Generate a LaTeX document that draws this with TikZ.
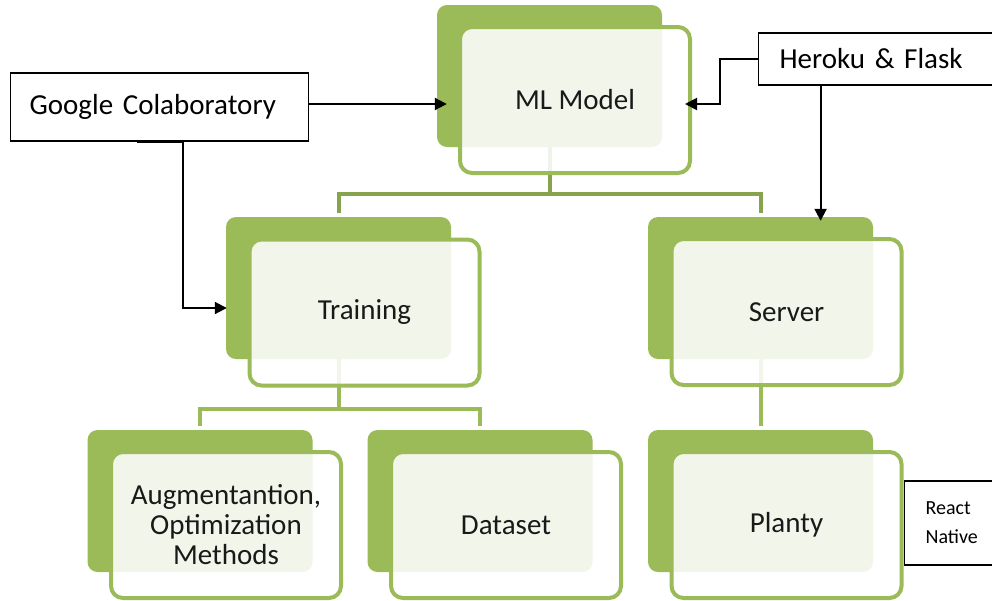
\documentclass[tikz,border=0pt]{standalone}
\usepackage{fontspec}
\setmainfont{Carlito}
\usetikzlibrary{arrows.meta,calc}
\definecolor{grn}{HTML}{9BBB59}
\definecolor{grnd}{HTML}{86A34E}
\newcommand\bigtxt{\fontsize{29}{30}\selectfont}
\newcommand\smalltxt{\fontsize{20}{29}\selectfont}
\begin{document}
\begin{tikzpicture}[x=1pt,y=-1pt,
  back/.style={fill=grn, rounded corners=10pt, minimum width=225pt, minimum height=142pt, inner sep=0pt},
  front/.style={draw=grn, line width=4pt, fill=white, fill opacity=0.88, text opacity=1, rounded corners=12pt, minimum width=230pt, minimum height=146pt, inner sep=0pt, font=\bigtxt, align=center, text=black!90},
  conn/.style={draw=grn, line width=4pt},
  connd/.style={draw=grnd, line width=4pt},
  lbl/.style={draw=black, line width=1.2pt, fill=white, inner sep=0pt, text=black},
  arr/.style={draw=black, line width=2pt, -{Triangle[length=12pt,width=12pt]}}]
\useasboundingbox (0,0) rectangle (992,600);
% back rectangles
\node[back] (mlB) at (549.5,76) {};
\node[back] (trB) at (338.5,288) {};
\node[back] (srvB) at (760.5,288) {};
\node[back] (augB) at (200,501) {};
\node[back] (dsB) at (480,501) {};
\node[back] (plB) at (760.5,501) {};
% tree connectors
\draw[connd] (mlB.south) -- ($(mlB.south)+(0,47)$);
\draw[connd] ([yshift=4pt]trB.north) |- ($(mlB.south)+(0,47)$) -| ([yshift=4pt]srvB.north);
\draw[conn] (trB.south) -- ($(trB.south)+(0,50)$);
\draw[conn] ([yshift=4pt]augB.north) |- ($(trB.south)+(0,50)$) -| ([yshift=4pt]dsB.north);
\draw[conn] (srvB.south) -- ([yshift=4pt]plB.north);
% front rectangles
\node[front] (mlF) at (575,100) {ML Model};
\node[front] (trF) at (364.5,312.5) {Training};
\node[front] (srvF) at (786.5,312) {Server};
\node[front] (augF) at (226,525) {Augmentantion,\\Optimization\\Methods};
\node[front] (dsF) at (506,525) {Dataset};
\node[front] (plF) at (786.5,525) {Planty};
% label boxes
\node[lbl, anchor=west, text width=260pt, inner xsep=19pt, minimum height=68pt, align=left, font=\bigtxt] (gc) at (10,107) {Google Colaboratory};
\node[lbl, anchor=west, text width=200pt, inner xsep=21pt, minimum height=52pt, align=left, font=\bigtxt] (hf) at (758,59) {Heroku \& Flask};
\node[lbl, anchor=west, text width=70pt, inner xsep=21pt, minimum height=84pt, align=left, font=\smalltxt] (rn) at (904,523) {React\\Native};
% black arrows
\draw[arr] ([yshift=3pt]gc.east) -- ([xshift=10pt,yshift=3pt]gc.east -| mlB.west);
\draw[arr] ([xshift=-22.5pt]gc.south) -- ++(46,0) |- ([xshift=1pt,yshift=-20pt]trB.west);
\draw[arr] (hf.west) -- ++(-38,0) |- ([xshift=-7pt,yshift=-4pt]mlF.east);
\draw[arr] ([xshift=-59pt]hf.south) -- ([xshift=-59pt,yshift=-4pt]hf.south |- srvB.north);
\end{tikzpicture}
\end{document}
